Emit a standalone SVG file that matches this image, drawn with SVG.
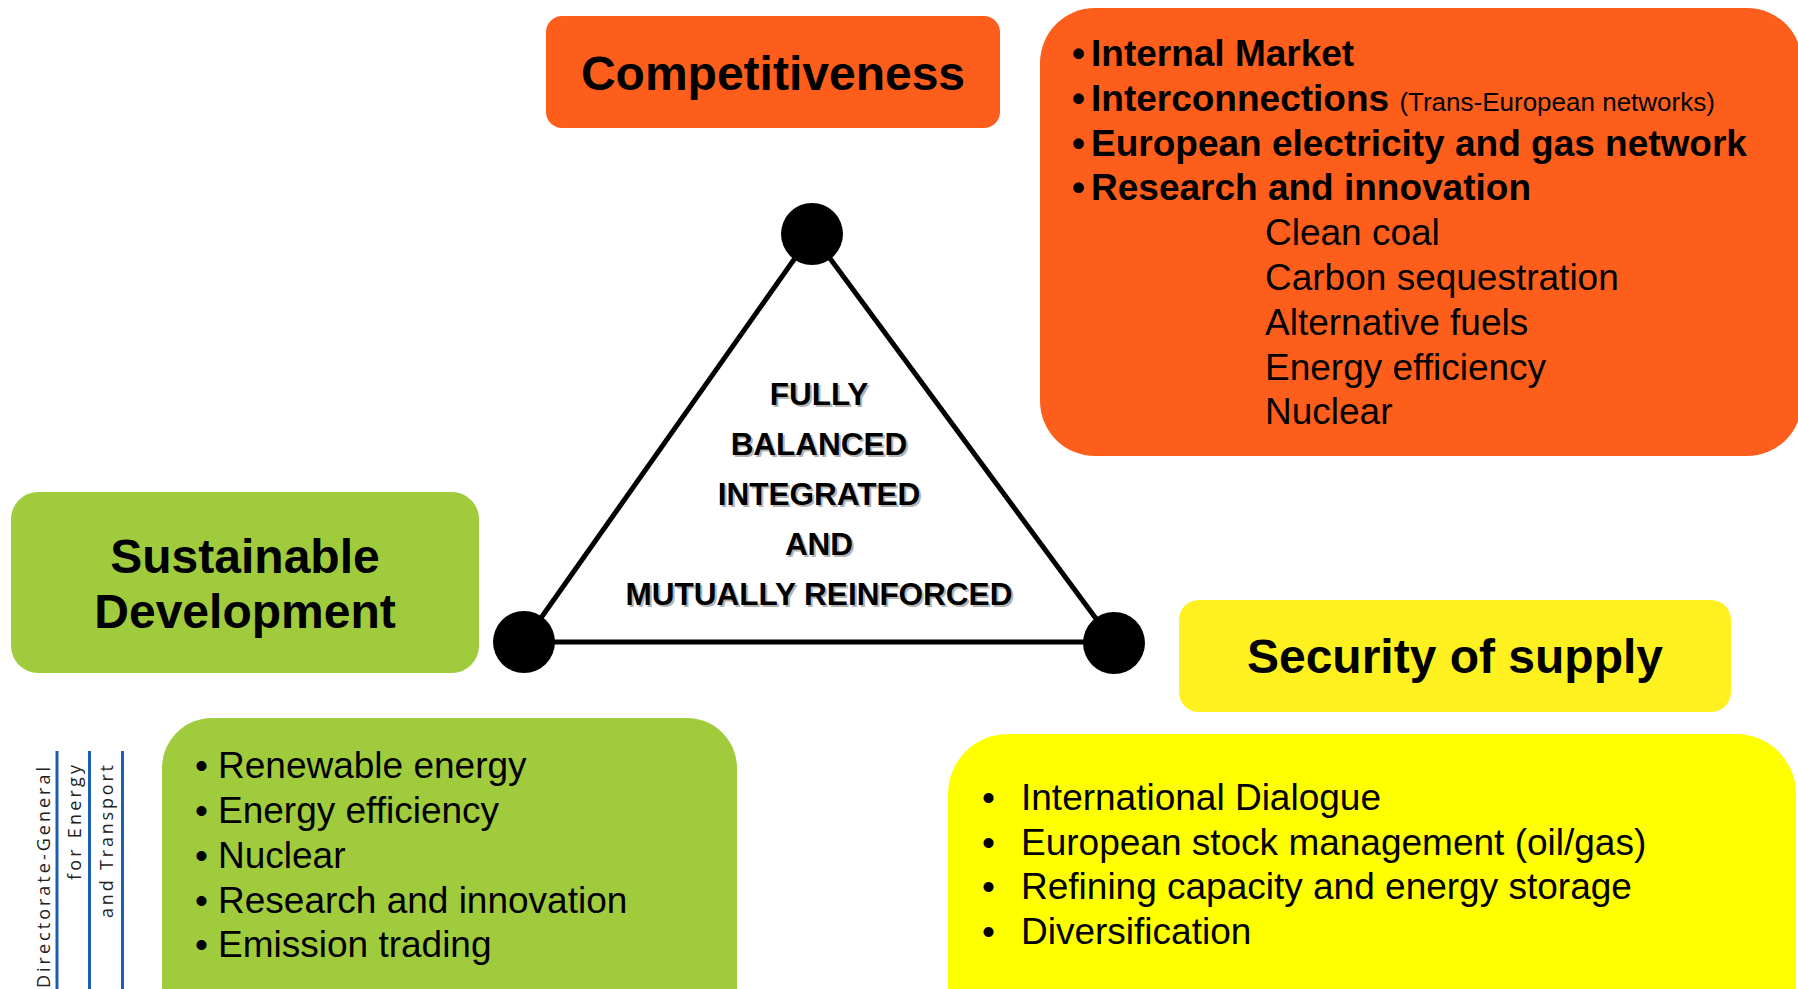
<svg xmlns="http://www.w3.org/2000/svg" width="1798" height="989" viewBox="0 0 1798 989">
<style>
.t{font-family:"Liberation Sans",Arial,sans-serif;fill:#000}
.h{font-size:48px;font-weight:bold;text-anchor:middle}
.b{font-size:37px;font-weight:bold}
.r{font-size:37px}
.s{font-size:26px}
.tri{font-size:31.5px;font-weight:bold;text-anchor:middle}
.sh{fill:#b4b4b4}
.dg{font-family:"Open Sans","Noto Sans",sans-serif;font-size:18px;fill:#222;text-anchor:end}
.blue{stroke:#1a5fb4;stroke-width:3}
.edge{stroke:#000;stroke-width:5;fill:none}
</style>
<rect width="1798" height="989" fill="#fff"/>
<g id="connectors">
<line class="edge" x1="812" y1="234" x2="524" y2="642"/>
<line class="edge" x1="812" y1="234" x2="1114" y2="643"/>
<line class="edge" x1="524" y1="642" x2="1114" y2="642"/>
</g>
<g id="dot-top"><circle cx="812" cy="234" r="31" fill="#000"/></g>
<g id="dot-left"><circle cx="524" cy="642" r="31" fill="#000"/></g>
<g id="dot-right"><circle cx="1114" cy="643" r="31" fill="#000"/></g>
<g id="center-text">
<text class="t tri sh" x="821" y="407">FULLY</text>
<text class="t tri sh" x="821" y="457">BALANCED</text>
<text class="t tri sh" x="821" y="507">INTEGRATED</text>
<text class="t tri sh" x="821" y="557">AND</text>
<text class="t tri sh" x="821" y="607">MUTUALLY REINFORCED</text>
<text class="t tri" x="819" y="405">FULLY</text>
<text class="t tri" x="819" y="455">BALANCED</text>
<text class="t tri" x="819" y="505">INTEGRATED</text>
<text class="t tri" x="819" y="555">AND</text>
<text class="t tri" x="819" y="605">MUTUALLY REINFORCED</text>
</g>
<g id="competitiveness">
<rect x="546" y="16" width="454" height="112" rx="16" fill="#fd5e1b"/>
<text class="t h" x="773" y="90">Competitiveness</text>
</g>
<g id="competitiveness-list">
<rect x="1040" y="8" width="762" height="448" rx="55" fill="#fd5e1b"/>
<text class="t b" x="1072" y="66">•</text><text class="t b" x="1091" y="66">Internal Market</text>
<text class="t b" x="1072" y="111">•</text><text class="t b" x="1091" y="111">Interconnections <tspan class="s" font-weight="normal">(Trans-European networks)</tspan></text>
<text class="t b" x="1072" y="156">•</text><text class="t b" x="1091" y="156">European electricity and gas network</text>
<text class="t b" x="1072" y="200">•</text><text class="t b" x="1091" y="200">Research and innovation</text>
<text class="t r" x="1265" y="245">Clean coal</text>
<text class="t r" x="1265" y="290">Carbon sequestration</text>
<text class="t r" x="1265" y="335">Alternative fuels</text>
<text class="t r" x="1265" y="380">Energy efficiency</text>
<text class="t r" x="1265" y="424">Nuclear</text>
</g>
<g id="sustainable">
<rect x="11" y="492" width="468" height="181" rx="27" fill="#9fcb3c"/>
<text class="t h" x="245" y="573">Sustainable</text>
<text class="t h" x="245" y="628">Development</text>
</g>
<g id="sustainable-list">
<rect x="162" y="718" width="575" height="320" rx="50" fill="#9fcb3c"/>
<text class="t r" x="195" y="778">•</text><text class="t r" x="218" y="778">Renewable energy</text>
<text class="t r" x="195" y="823">•</text><text class="t r" x="218" y="823">Energy efficiency</text>
<text class="t r" x="195" y="868">•</text><text class="t r" x="218" y="868">Nuclear</text>
<text class="t r" x="195" y="913">•</text><text class="t r" x="218" y="913">Research and innovation</text>
<text class="t r" x="195" y="957">•</text><text class="t r" x="218" y="957">Emission trading</text>
</g>
<g id="security">
<rect x="1179" y="600" width="552" height="112" rx="20" fill="#fff01f"/>
<text class="t h" x="1455" y="673">Security of supply</text>
</g>
<g id="security-list">
<rect x="948" y="734" width="848" height="320" rx="60" fill="#ffff00"/>
<text class="t r" x="982" y="810">•</text><text class="t r" x="1021" y="810">International Dialogue</text>
<text class="t r" x="982" y="855">•</text><text class="t r" x="1021" y="855">European stock management (oil/gas)</text>
<text class="t r" x="982" y="899">•</text><text class="t r" x="1021" y="899">Refining capacity and energy storage</text>
<text class="t r" x="982" y="944">•</text><text class="t r" x="1021" y="944">Diversification</text>
</g>
<g id="dg-logo">
<line class="blue" x1="57" y1="751" x2="57" y2="989"/>
<line class="blue" x1="89.5" y1="751" x2="89.5" y2="989"/>
<line class="blue" x1="122.5" y1="751" x2="122.5" y2="989"/>
<text class="dg" transform="translate(50,767) rotate(-90)" textLength="221" lengthAdjust="spacing">Directorate-General</text>
<text class="dg" transform="translate(81,765) rotate(-90)" textLength="115" lengthAdjust="spacing">for Energy</text>
<text class="dg" transform="translate(113,765) rotate(-90)" textLength="153" lengthAdjust="spacing">and Transport</text>
</g>
</svg>
